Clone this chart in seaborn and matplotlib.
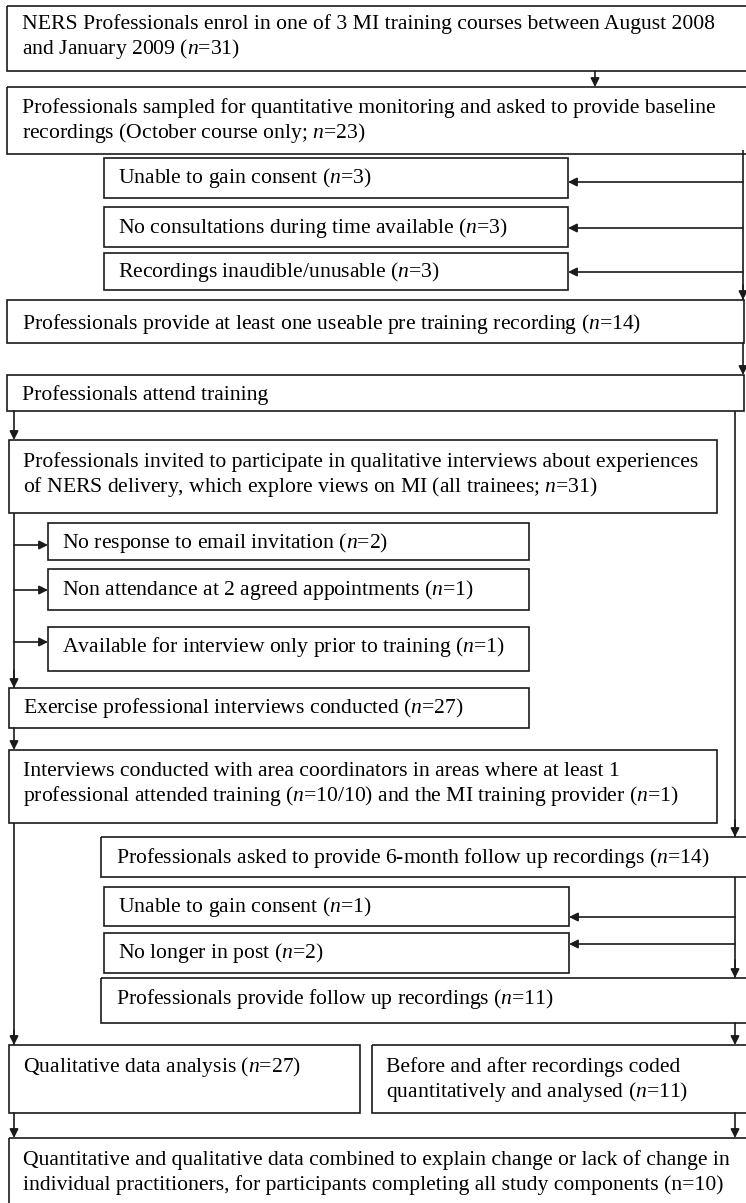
import matplotlib
matplotlib.use("Agg")
import matplotlib.pyplot as plt
import matplotlib.patches as patches
import seaborn as sns

# ---------------- FLOW CONTENT ---------------- #
labels = [
    "NERS Professionals enrol in one of 3 MI training courses between August 2008\nand January 2009 ($n$=31)",
    "Professionals sampled for quantitative monitoring and asked to provide baseline\nrecordings (October course only; $n$=23)",
    "Unable to gain consent ($n$=3)",
    "No consultations during time available ($n$=3)",
    "Recordings inaudible/unusable ($n$=3)",
    "Professionals provide at least one useable pre training recording ($n$=14)",
    "Professionals attend training",
    "Professionals invited to participate in qualitative interviews about experiences\nof NERS delivery, which explore views on MI (all trainees; $n$=31)",
    "No response to email invitation ($n$=2)",
    "Non attendance at 2 agreed appointments ($n$=1)",
    "Available for interview only prior to training ($n$=1)",
    "Exercise professional interviews conducted ($n$=27)",
    "Interviews conducted with area coordinators in areas where at least 1\nprofessional attended training ($n$=10/10) and the MI training provider ($n$=1)",
    "Professionals asked to provide 6-month follow up recordings ($n$=14)",
    "Unable to gain consent ($n$=1)",
    "No longer in post ($n$=2)",
    "Professionals provide follow up recordings ($n$=11)",
    "Qualitative data analysis ($n$=27)",
    "Before and after recordings coded\nquantitatively and analysed ($n$=11)",
    "Quantitative and qualitative data combined to explain change or lack of change in\nindividual practitioners, for participants completing all study components (n=10)",
]

# ---------------- LAYOUT (pixels, y down) ---------------- #
# x0, y0, x1, y1, text x, first text line y
boxes = [
    (7, 6, 748, 71, 22, 24),
    (7, 87, 748, 154, 22, 108),
    (104, 158, 568, 198, 118, 178),
    (104, 207, 568, 247, 118, 228),
    (104, 253, 568, 290, 118, 272),
    (7, 300, 744, 343, 22, 324),
    (7, 375, 744, 411, 22, 395),
    (9, 440, 717, 513, 23, 462),
    (48, 523, 529, 560, 62, 543),
    (48, 569, 529, 610, 62, 590),
    (48, 627, 529, 671, 62, 647),
    (9, 688, 529, 728, 23, 708),
    (9, 750, 717, 823, 23, 771),
    (101, 837, 748, 877, 116, 858),
    (104, 887, 569, 926, 118, 907),
    (104, 933, 569, 973, 118, 953),
    (101, 978, 748, 1023, 116, 999),
    (9, 1045, 360, 1113, 23, 1067),
    (372, 1045, 748, 1113, 386, 1067),
    (9, 1138, 748, 1210, 23, 1160),
]
line_gap = 25

# plain lines (no head) and arrows (head at end)
lines = [
    ((743, 150), (743, 300)),
    ((735, 411), (735, 837)),
    ((14, 513), (14, 688)),
    ((14, 823), (14, 1045)),
    ((735, 877), (735, 978)),
]
arrows = [
    ((595, 71), (595, 87)),
    ((743, 182), (568, 182)),
    ((743, 228), (568, 228)),
    ((743, 272), (568, 272)),
    ((743, 285), (743, 300)),
    ((743, 343), (743, 375)),
    ((14, 411), (14, 440)),
    ((735, 820), (735, 837)),
    ((14, 545), (48, 545)),
    ((14, 590), (48, 590)),
    ((14, 642), (48, 642)),
    ((14, 670), (14, 688)),
    ((14, 728), (14, 750)),
    ((14, 1030), (14, 1045)),
    ((735, 917), (569, 917)),
    ((735, 944), (569, 944)),
    ((735, 960), (735, 978)),
    ((735, 1023), (735, 1045)),
    ((14, 1113), (14, 1138)),
    ((735, 1113), (735, 1138)),
]

sns.set_style("white")
plt.rcParams['font.family'] = ['Liberation Serif', 'DejaVu Serif']
plt.rcParams['mathtext.fontset'] = 'custom'
plt.rcParams['mathtext.rm'] = 'Liberation Serif'
plt.rcParams['mathtext.it'] = 'Liberation Serif:italic'

W, H = 746, 1203
fig = plt.figure(figsize=(W / 100, H / 100), dpi=100)
ax = fig.add_axes([0, 0, 1, 1])
ax.set_xlim(0, W)
ax.set_ylim(H, 0)
ax.axis('off')

ink = '#1a1a1a'
for label, (x0, y0, x1, y1, tx, ty) in zip(labels, boxes):
    rect = patches.Rectangle((x0, y0), x1 - x0, y1 - y0, fill=False,
                             ec=ink, lw=1.2)
    ax.add_patch(rect)
    for i, part in enumerate(label.split("\n")):
        ax.text(tx, ty + i * line_gap, part, fontsize=15.6,
                va='center', ha='left', color='black')

for start, end in lines:
    ax.plot([start[0], end[0]], [start[1], end[1]], color=ink, lw=1.2,
            solid_capstyle='butt')

for start, end in arrows:
    ax.annotate("", xy=end, xytext=start,
                arrowprops=dict(arrowstyle='-|>', color=ink, lw=1.2,
                                shrinkA=0, shrinkB=0, mutation_scale=13))

fig.savefig("out.png", dpi=100)
